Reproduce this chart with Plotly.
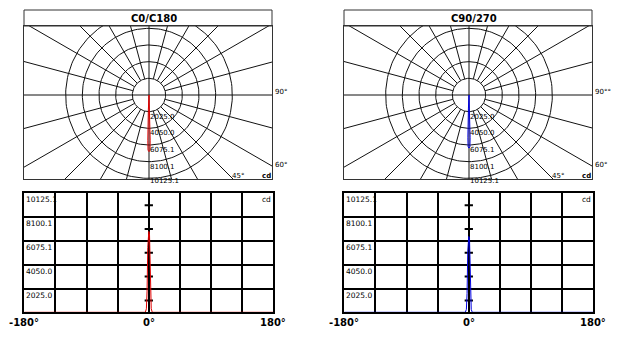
import numpy as np
import plotly.graph_objects as go

# ---------------- data ----------------
titles = ["C0/C180", "C90/270"]
ring_values = [2025.0, 4050.0, 6075.1, 8100.1, 10125.1]
ring_labels = ["2025.0", "4050.0", "6075.1", "8100.1", "10125.1"]
x_tick_labels = ["-180°", "0°", "180°"]
x_tick_vals = [-180, 0, 180]

angles_c0 = [-180, -5, -3.5, -2.5, -1.5, -1, 0, 1, 1.5, 2.5, 3.5, 5, 180]
cd_c0 = [0, 0, 300, 1800, 5500, 6700, 6880, 6700, 5500, 1800, 300, 0, 0]
angles_c90 = [-180, -5, -3.5, -2.5, -1.5, -1, 0, 1, 1.5, 2.5, 3.5, 5, 180]
cd_c90 = [0, 0, 250, 1600, 5200, 6300, 6450, 6300, 5200, 1600, 250, 0, 0]

W, H = 632, 339
MAXV = 10125.1
FONT = "DejaVu Sans"

fig = go.Figure()


def px(x):
    return x / W


def py(y):
    return 1 - y / H


panels = [
    dict(dx=0, title=titles[0], ang=angles_c0, cd=cd_c0, color="#e00000", sfx=("", "2")),
    dict(dx=320, title=titles[1], ang=angles_c90, cd=cd_c90, color="#0000e0", sfx=("3", "4")),
]

k = MAXV / 83.33  # cd per pixel in polar diagram
shapes = []
annotations = []

for p in panels:
    dx = p["dx"]
    ps, cs = p["sfx"]
    xa_p = "x" + ps
    ya_p = "y" + ps
    xa_c = "x" + cs
    ya_c = "y" + cs
    # --- polar box geometry (pixels)
    L, R, T, B = 24 + dx, 272 + dx, 26, 179
    CX, CY = 149 + dx, 95
    xr = [-(CX - L) * k, (R - CX) * k]
    yr = [-(B - CY) * k, (CY - T) * k]

    # circles
    th = np.radians(np.arange(0, 362, 2))
    cx, cy = [], []
    for r in ring_values:
        cx += list(r * np.sin(th)) + [None]
        cy += list(r * np.cos(th)) + [None]
    # spokes every 15 deg starting at first ring
    big = 40000
    for a in range(0, 360, 15):
        t = np.radians(a)
        if a % 90 == 0:
            continue
        cx += [ring_values[0] * np.sin(t), big * np.sin(t), None]
        cy += [ring_values[0] * np.cos(t), big * np.cos(t), None]
    cx += [-big, big, None, 0, 0, None]
    cy += [0, 0, None, -big, big, None]
    fig.add_trace(go.Scatter(x=cx, y=cy, mode="lines", line=dict(color="#111", width=1),
                             xaxis=xa_p, yaxis=ya_p, hoverinfo="skip", showlegend=False))
    # curve
    a = np.radians(np.array(p["ang"], dtype=float))
    c = np.array(p["cd"], dtype=float)
    fig.add_trace(go.Scatter(x=c * np.sin(a), y=-c * np.cos(a), mode="lines",
                             line=dict(color=p["color"], width=1),
                             xaxis=xa_p, yaxis=ya_p, hoverinfo="skip", showlegend=False))

    fig.layout["xaxis" + ps] = dict(domain=[px(L), px(R)], range=xr, anchor=ya_p,
                                    showgrid=False, zeroline=False, showticklabels=False,
                                    showline=True, mirror=True, linecolor="#333", linewidth=1,
                                    ticks="", fixedrange=True)
    fig.layout["yaxis" + ps] = dict(domain=[py(B), py(T)], range=yr, anchor=xa_p,
                                    showgrid=False, zeroline=False, showticklabels=False,
                                    showline=True, mirror=True, linecolor="#333", linewidth=1,
                                    ticks="", fixedrange=True)
    # title strip
    shapes.append(dict(type="rect", xref="paper", yref="paper", x0=px(L), x1=px(R),
                       y0=py(T), y1=py(10), line=dict(color="#333", width=1)))
    annotations.append(dict(text="<b>%s</b>" % p["title"], xref="paper", yref="paper",
                            x=px(L + 129.5), y=py(11), xanchor="center", yanchor="top",
                            showarrow=False,
                            font=dict(family=FONT, size=10, color="black")))
    # ring labels
    for i, (v, lab) in enumerate(zip(ring_values, ring_labels)):
        annotations.append(dict(text=lab, xref=xa_p, yref=ya_p, x=0, y=-v,
                                xanchor="left", yanchor="middle", xshift=-1,
                                yshift=-5 if i < 4 else -2.5, showarrow=False,
                                font=dict(family=FONT, size=7, color="black")))
    deg90 = "90°" if dx == 0 else "90°°"
    annotations += [
        dict(text=deg90, xref="paper", yref="paper", x=px(R + 1), y=py(92),
             xanchor="left", yanchor="middle", showarrow=False,
             font=dict(family=FONT, size=7, color="black")),
        dict(text="60°", xref="paper", yref="paper", x=px(R + 1), y=py(165),
             xanchor="left", yanchor="middle", showarrow=False,
             font=dict(family=FONT, size=7, color="black")),
        dict(text="45°", xref="paper", yref="paper", x=px(CX + 81), y=py(176),
             xanchor="left", yanchor="middle", showarrow=False,
             font=dict(family=FONT, size=7, color="black")),
        dict(text="<b>cd</b>", xref="paper", yref="paper", x=px(R + 1), y=py(176),
             xanchor="right", yanchor="middle", showarrow=False,
             font=dict(family=FONT, size=7, color="black")),
    ]

    # --- cartesian chart
    L2, R2, T2, B2 = 24.3 + dx, 273.3 + dx, 193.3, 312.3
    step = MAXV / 5
    yt = [step * i for i in range(6)]
    # ticks on the 0 line
    tx, ty = [], []
    for i in range(5):
        ym = step * (i + 0.5)
        tx += [-6, 6, None]
        ty += [ym, ym, None]
    fig.add_trace(go.Scatter(x=tx, y=ty, mode="lines", line=dict(color="black", width=2),
                             xaxis=xa_c, yaxis=ya_c, hoverinfo="skip", showlegend=False))
    fig.add_trace(go.Scatter(x=p["ang"], y=p["cd"], mode="lines",
                             line=dict(color=p["color"], width=1),
                             xaxis=xa_c, yaxis=ya_c, hoverinfo="skip", showlegend=False))
    fig.layout["xaxis" + cs] = dict(domain=[px(L2), px(R2)], range=[-180, 180], anchor=ya_c,
                                    tickvals=list(range(-180, 181, 45)), showticklabels=False,
                                    showgrid=True, gridcolor="black", gridwidth=2,
                                    zeroline=False, showline=True, mirror=True,
                                    linecolor="black", linewidth=2, ticks="", fixedrange=True)
    fig.layout["yaxis" + cs] = dict(domain=[py(B2), py(T2)], range=[0, MAXV], anchor=xa_c,
                                    tickvals=yt, showticklabels=False,
                                    showgrid=True, gridcolor="black", gridwidth=2,
                                    zeroline=False, showline=True, mirror=True,
                                    linecolor="black", linewidth=2, ticks="", fixedrange=True)
    for v, lab in zip(ring_values, ring_labels):
        annotations.append(dict(text=lab, xref=xa_c, yref=ya_c, x=-180, y=v,
                                xanchor="left", yanchor="middle", yshift=-6.5, xshift=0,
                                showarrow=False, font=dict(family=FONT, size=7.5, color="black")))
    annotations.append(dict(text="cd", xref=xa_c, yref=ya_c, x=180, y=MAXV,
                            xanchor="right", yanchor="middle", yshift=-6.5,
                            showarrow=False, font=dict(family=FONT, size=7.5, color="black")))
    for v, lab in zip(x_tick_vals, x_tick_labels):
        annotations.append(dict(text="<b>%s</b>" % lab, xref=xa_c, yref="paper", x=v,
                                y=py(322.5), xanchor="center", yanchor="middle",
                                showarrow=False, font=dict(family=FONT, size=10, color="black")))

fig.update_layout(width=W, height=H, margin=dict(l=0, r=0, t=0, b=0),
                  paper_bgcolor="white", plot_bgcolor="white",
                  shapes=shapes, annotations=annotations, showlegend=False)

fig.write_html("out.html")
